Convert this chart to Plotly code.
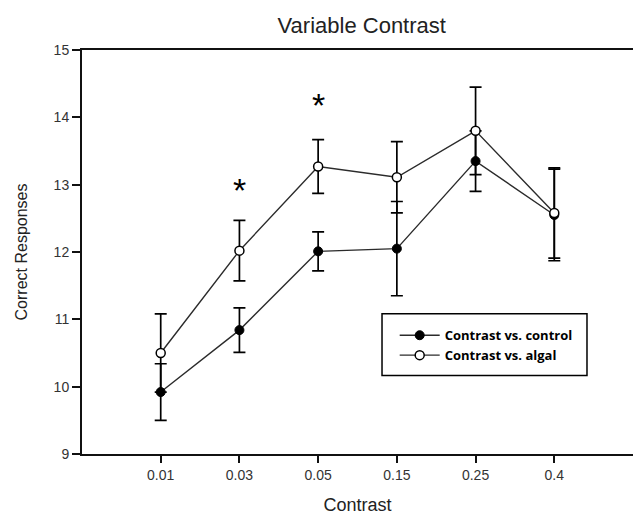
import plotly.graph_objects as go

categories = ["0.01", "0.03", "0.05", "0.15", "0.25", "0.4"]
control_mean = [9.92, 10.84, 12.01, 12.05, 13.35, 12.55]
control_err = [0.42, 0.33, 0.29, 0.70, 0.45, 0.68]
algal_mean = [10.50, 12.02, 13.27, 13.11, 13.80, 12.58]
algal_err = [0.58, 0.45, 0.40, 0.53, 0.65, 0.67]
sig_categories = ["0.03", "0.05"]
sig_y = [12.92, 14.19]
y_ticks = [9, 10, 11, 12, 13, 14, 15]

line_col = "#2b2b2b"
text_col = "#222222"
fig = go.Figure()
fig.add_trace(go.Scatter(
    x=categories, y=control_mean, name="<b>Contrast vs. control</b>",
    mode="lines+markers",
    line=dict(color=line_col, width=1.4),
    marker=dict(size=9, color="black", line=dict(color="black", width=1)),
    error_y=dict(type="data", array=control_err, color="black", thickness=1.7, width=6),
))
fig.add_trace(go.Scatter(
    x=categories, y=algal_mean, name="<b>Contrast vs. algal</b>",
    mode="lines+markers",
    line=dict(color=line_col, width=1.4),
    marker=dict(size=9, color="white", line=dict(color="black", width=1.5)),
    error_y=dict(type="data", array=algal_err, color="black", thickness=1.7, width=6),
))
for c, yv in zip(sig_categories, sig_y):
    fig.add_annotation(x=categories.index(c), y=yv, xref="x", yref="y",
                       text="*", showarrow=False,
                       font=dict(size=34, color="black", family="Liberation Sans"))

# legend frame
fig.add_shape(type="rect", xref="paper", yref="paper",
              x0=0.5445, x1=0.9165, y0=0.1946, y1=0.347,
              line=dict(color="black", width=1.5), fillcolor="rgba(0,0,0,0)", layer="above")

fig.update_layout(
    width=638, height=517,
    margin=dict(l=82, r=5, t=50, b=61),
    paper_bgcolor="white", plot_bgcolor="white",
    title=dict(text="Variable Contrast", x=0.567, xanchor="center", y=0.952, yanchor="middle",
               font=dict(size=22, color=text_col, family="Liberation Sans")),
    font=dict(family="Liberation Sans", color=text_col),
    showlegend=True,
    legend=dict(x=0.5675, y=0.331, xanchor="left", yanchor="top",
                borderwidth=0, bgcolor="rgba(255,255,255,0)",
                font=dict(size=13, color="black", family="Open Sans"),
                itemwidth=40, tracegroupgap=0),
)
fig.update_xaxes(
    type="category", range=[-1, 6], showline=True, linecolor="#111", linewidth=2,
    mirror=True, ticks="outside", ticklen=7, tickwidth=1.8, tickcolor="#111",
    showgrid=False, zeroline=False, tickfont=dict(size=14, color="#333"),
    title=dict(text="Contrast", font=dict(size=18, color=text_col), standoff=17),
)
fig.update_yaxes(
    range=[9, 15], tickvals=y_ticks, showline=True, linecolor="#111", linewidth=2,
    ticks="outside", ticklen=8, tickwidth=1.8, tickcolor="#111",
    showgrid=False, zeroline=False, tickfont=dict(size=14, color="#333"),
    title=dict(text="Correct Responses", font=dict(size=16, color=text_col), standoff=22),
)
fig.write_html("out.html")
